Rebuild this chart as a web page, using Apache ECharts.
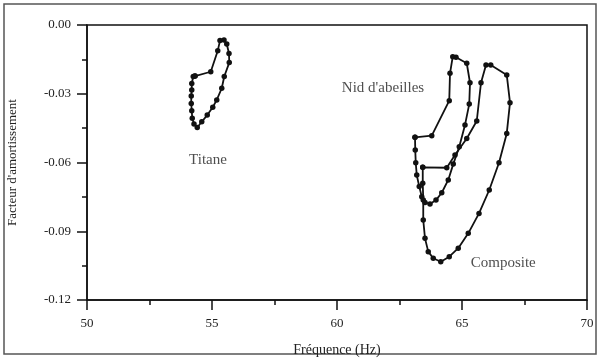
<!DOCTYPE html>
<html>
<head>
<meta charset="utf-8">
<script src="https://cdn.jsdelivr.net/npm/echarts@6/dist/echarts.min.js"></script>
<style>html,body{margin:0;padding:0;background:#fff}#c{width:599px;height:358px}</style>
</head>
<body>
<div id="c"></div>
<script>
// Frequencies (Hz) and damping factors
const titaneF = [54.32,54.95,55.23,55.32,55.48,55.59,55.68,55.69,55.49,55.39,55.19,55.03,54.81,54.59,54.41,54.28,54.21,54.19,54.17,54.17,54.19,54.19,54.25,54.32];
const titaneV = [-0.0223,-0.0204,-0.0112,-0.0068,-0.0065,-0.0083,-0.0124,-0.0164,-0.0225,-0.0276,-0.0327,-0.0359,-0.0393,-0.0422,-0.0447,-0.0432,-0.0407,-0.0374,-0.0342,-0.0310,-0.0284,-0.0255,-0.0225,-0.0223];

const nidF = [63.12,63.79,64.49,64.52,64.63,64.76,65.19,65.32,65.29,65.12,64.89,64.65,64.45,64.19,63.96,63.72,63.52,63.39,63.29,63.19,63.15,63.13,63.12];
const nidV = [-0.0490,-0.0483,-0.0330,-0.0211,-0.0138,-0.0141,-0.0167,-0.0252,-0.0345,-0.0436,-0.0531,-0.0607,-0.0676,-0.0732,-0.0764,-0.0781,-0.0775,-0.0749,-0.0705,-0.0655,-0.0601,-0.0545,-0.0490];

const compF = [63.43,64.39,64.72,65.19,65.59,65.76,65.96,66.15,66.79,66.92,66.79,66.48,66.09,65.68,65.25,64.85,64.49,64.15,63.85,63.65,63.52,63.45,63.45,63.43,63.43];
const compV = [-0.0621,-0.0623,-0.0567,-0.0495,-0.0419,-0.0252,-0.0175,-0.0175,-0.0218,-0.0339,-0.0473,-0.0601,-0.0720,-0.0822,-0.0909,-0.0974,-0.1011,-0.1033,-0.1018,-0.0989,-0.0931,-0.0851,-0.0764,-0.0691,-0.0621];

const labelNames = ['Titane', "Nid d'abeilles", 'Composite'];
const labelF = [54.84, 61.84, 66.65];
const labelV = [-0.0589, -0.0275, -0.1039];

const xTicks = [50, 55, 60, 65, 70];
const yTicks = [-0.12, -0.09, -0.06, -0.03, 0.00];

const zip = (a, b) => a.map((v, i) => [v, b[i]]);
const font = 'Liberation Serif';

const loopSeries = (data) => ({
  type: 'line',
  data: data,
  symbol: 'circle',
  symbolSize: 5.5,
  lineStyle: { color: '#111', width: 1.8 },
  itemStyle: { color: '#111' },
  silent: true,
  animation: false
});

const chart = echarts.init(document.getElementById('c'), null, { renderer: 'canvas' });
chart.setOption({
  animation: false,
  backgroundColor: '#fff',
  grid: { left: 87, right: 12, top: 25, bottom: 58, show: true, borderColor: '#111', borderWidth: 1.5, outerBoundsMode: 'none', containLabel: false },
  graphic: [{
    type: 'rect', shape: { x: 4, y: 4, width: 592, height: 350 },
    style: { fill: 'none', stroke: '#555', lineWidth: 1.5 }, z: 0
  }],
  xAxis: {
    type: 'value', min: xTicks[0], max: xTicks[xTicks.length - 1], interval: 5,
    name: 'Fréquence (Hz)', nameLocation: 'middle', nameGap: 43,
    nameTextStyle: { fontFamily: font, fontSize: 14, color: '#222' },
    axisLine: { show: true, onZero: false, lineStyle: { color: '#111', width: 1.5 } },
    axisTick: { show: true, inside: false, length: 10, lineStyle: { color: '#111', width: 1.5 } },
    minorTick: { show: true, splitNumber: 2, length: 5, lineStyle: { color: '#111', width: 1.5 } },
    axisLabel: { fontFamily: font, fontSize: 13, color: '#222', margin: 17, formatter: v => String(v) },
    splitLine: { show: false }
  },
  yAxis: {
    type: 'value', min: yTicks[0], max: yTicks[yTicks.length - 1], interval: 0.03,
    name: "Facteur d'amortissement", nameLocation: 'middle', nameGap: 68,
    nameTextStyle: { fontFamily: font, fontSize: 13, color: '#222' },
    axisLine: { show: true, onZero: false, lineStyle: { color: '#111', width: 1.5 } },
    axisTick: { show: true, inside: false, length: 10, lineStyle: { color: '#111', width: 1.5 } },
    minorTick: { show: true, splitNumber: 2, length: 5, lineStyle: { color: '#111', width: 1.5 } },
    axisLabel: { fontFamily: font, fontSize: 13, color: '#222', margin: 16, formatter: v => v.toFixed(2) },
    splitLine: { show: false }
  },
  series: [
    loopSeries(zip(titaneF, titaneV)),
    loopSeries(zip(nidF, nidV)),
    loopSeries(zip(compF, compV)),
    {
      type: 'scatter',
      data: labelNames.map((n, i) => ({ value: [labelF[i], labelV[i]], name: n })),
      symbolSize: 0,
      silent: true,
      label: { show: true, position: 'inside', formatter: p => p.name, fontFamily: font, fontSize: 15, color: '#222' }
    }
  ]
});
</script>
</body>
</html>
